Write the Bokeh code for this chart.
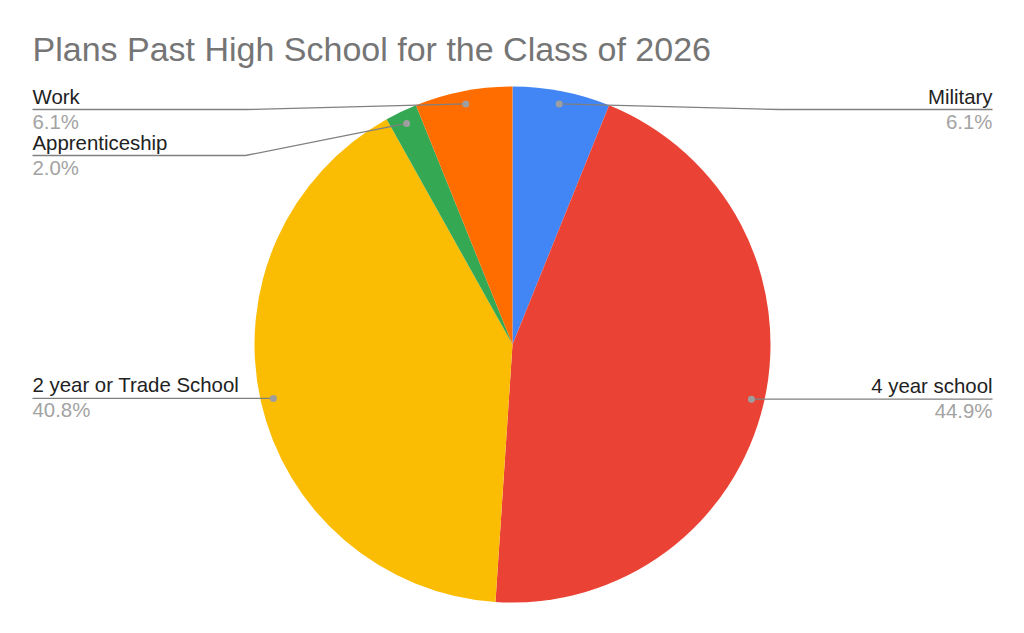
from bokeh.plotting import figure
from bokeh.core.properties import value
from bokeh.embed import file_html
from bokeh.resources import INLINE
import numpy as np

title = "Plans Past High School for the Class of 2026"
categories = ["Military", "4 year school", "2 year or Trade School", "Apprenticeship", "Work"]
shares = [6.1, 44.9, 40.8, 2.0, 6.1]
colors = ["#4285F4", "#EA4335", "#FBBC04", "#34A853", "#FF6D01"]

W, H = 1008, 617
PAGE_H = 633
FONT = value("Liberation Sans")


def sy(v):
    # screen y (from top of the picture) -> data y
    return PAGE_H - v


p = figure(width=W, height=H, x_range=(0, W), y_range=(PAGE_H - H, PAGE_H),
           output_backend="svg", toolbar_location=None, min_border=0)
p.axis.visible = False
p.grid.visible = False
p.outline_line_color = None

# pie
cx, cy, r = 512, sy(344), 258
frac = np.array(shares) / sum(shares)
cum = np.concatenate([[0], np.cumsum(frac)])
start = np.pi / 2 - 2 * np.pi * cum[:-1]
end = np.pi / 2 - 2 * np.pi * cum[1:]
p.wedge(x=cx, y=cy, radius=r, start_angle=start, end_angle=end,
        direction="clock", fill_color=colors, line_color=None)

# label placement
mid = 2 * np.pi * (cum[:-1] + cum[1:]) / 2   # clockwise from top
dot_x = cx + 0.95 * r * np.sin(mid)
dot_y = cy + 0.95 * r * np.cos(mid)
right = np.sin(mid) > 0

label_y = {}
top_limit = sy(109)
gap = 46
for side in (True, False):
    idx = [i for i in range(len(categories)) if right[i] == side]
    idx.sort(key=lambda i: -dot_y[i])
    prev = None
    for i in idx:
        y = min(dot_y[i], top_limit)
        if prev is not None:
            y = min(y, prev - gap)
        label_y[i] = y
        prev = y

xs, ys = [], []
for i in range(len(categories)):
    ly = label_y[i]
    if right[i]:
        bend, tip = cx + r + 9, 992
    else:
        bend, tip = cx - r - 9, 32
    xs.append([dot_x[i], bend, tip])
    ys.append([dot_y[i], ly, ly])
    align = "right" if right[i] else "left"
    p.text(x=[tip], y=[ly + 13], text=[categories[i]], text_align=align,
           text_baseline="alphabetic", text_font=FONT,
           text_font_size="20.4px", text_color="#222222")
    p.text(x=[tip], y=[ly - 12], text=["%.1f%%" % shares[i]], text_align=align,
           text_baseline="alphabetic", text_font=FONT,
           text_font_size="20.4px", text_color="#a3a3a3")

p.multi_line(xs=xs, ys=ys, line_color="#808080", line_width=1.3)
p.scatter(x=dot_x, y=dot_y, size=7, fill_color="#9e9e9e", line_color=None)

p.text(x=[32], y=[sy(58.5) + 10.5], text=[title], text_baseline="alphabetic",
       text_font=FONT, text_font_size="34px", text_color="#757575")

open("out.html", "w").write(file_html(p, INLINE))
